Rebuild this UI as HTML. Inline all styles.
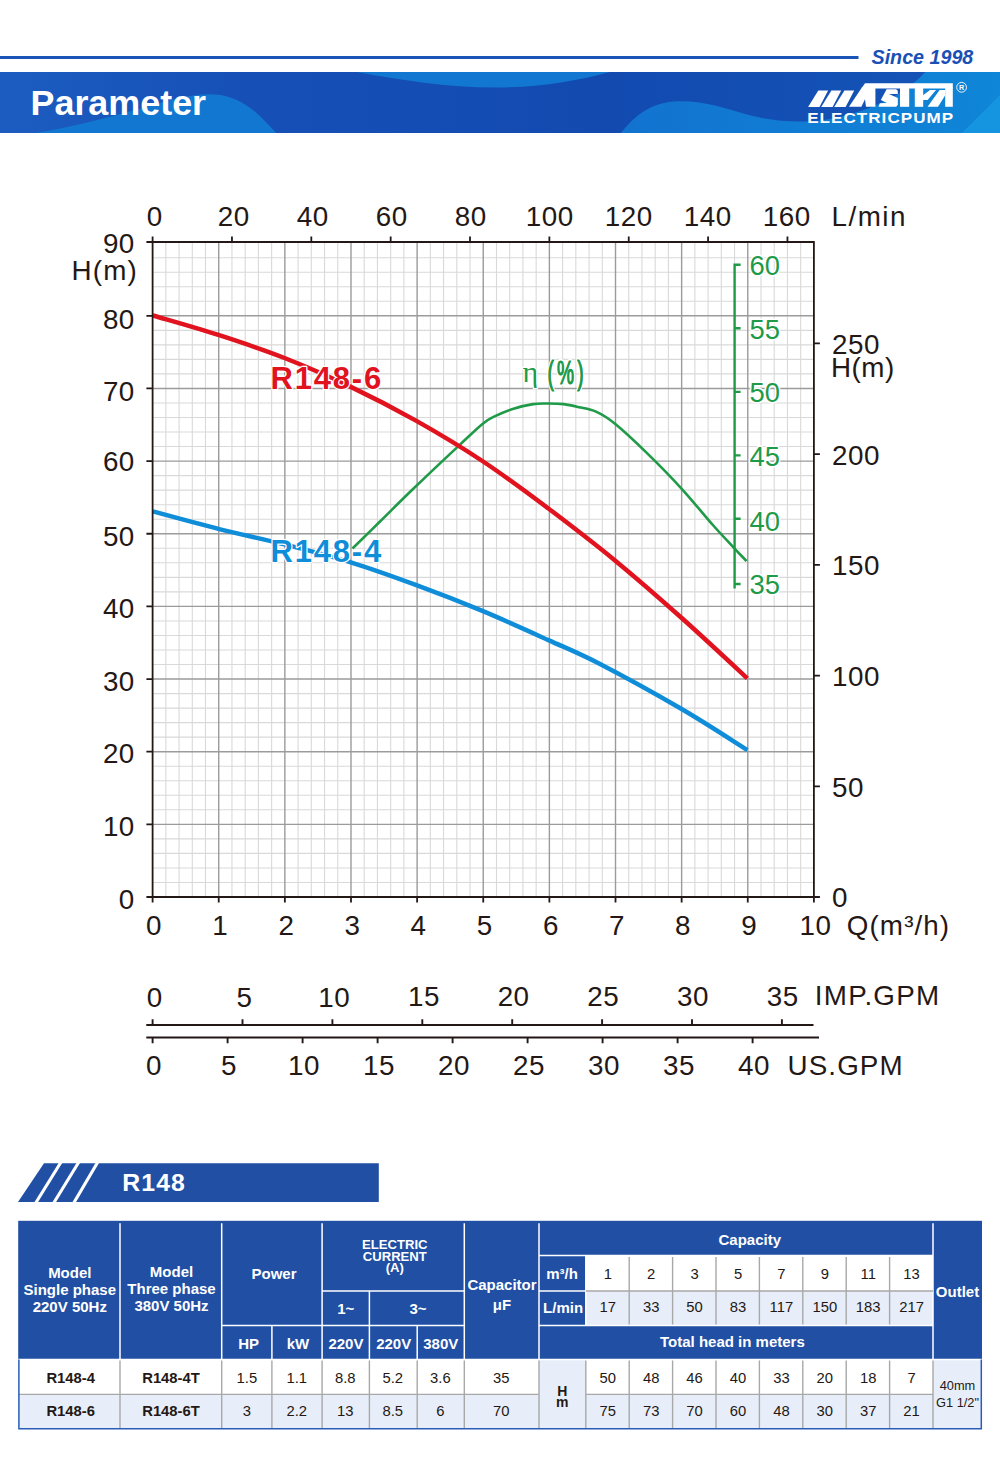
<!DOCTYPE html>
<html><head><meta charset="utf-8"><title>Parameter</title>
<style>
html,body{margin:0;padding:0;background:#fff;}
body{width:1000px;height:1481px;overflow:hidden;font-family:"Liberation Sans",sans-serif;}
svg{display:block;position:absolute;left:0;top:0;}
svg text{font-family:"Liberation Sans",sans-serif;}
.ax{font-size:27.8px;fill:#231815;letter-spacing:0.5px;}
.gr{font-size:27.4px;fill:#1f9a48;stroke:#fff;stroke-width:3px;paint-order:stroke fill;stroke-linejoin:round;}
.th{font-size:15px;font-weight:bold;fill:#fff;text-anchor:middle;}
.td{font-size:14.8px;fill:#231815;text-anchor:middle;}
.tb{font-size:14.8px;font-weight:bold;fill:#231815;text-anchor:middle;}
</style></head><body>
<svg width="1000" height="1481" viewBox="0 0 1000 1481">
<defs>
<linearGradient id="bg" x1="0" y1="0" x2="1" y2="0"><stop offset="0" stop-color="#1c5cc0"/><stop offset="0.25" stop-color="#1650b6"/><stop offset="0.6" stop-color="#124ab0"/><stop offset="1" stop-color="#1555b8"/></linearGradient>
<linearGradient id="wv" x1="0" y1="0" x2="1" y2="0"><stop offset="0" stop-color="#1273cf"/><stop offset="1" stop-color="#0f86d8"/></linearGradient>
<clipPath id="bc"><rect x="0" y="72" width="1000" height="61"/></clipPath>
</defs>
<rect x="0" y="56" width="858.5" height="3" fill="#1a54b6"/>
<rect x="0" y="72" width="1000" height="61" fill="url(#bg)"/>
<g clip-path="url(#bc)">
<path d="M30,134 C80,126 125,113 160,103 C185,96 200,93.5 215,94.5 C240,96 258,112 277,134 Z" fill="#1277d0"/>
<path d="M357,72 C400,80 450,88 500,87.5 C545,87 580,80 610,72 Z" fill="#1277d0"/>
<path d="M620,134 C632,120 645,104 674,101.5 C700,99.5 725,108 749,115 C775,122 800,123 824,120 C850,116 880,106 903,91 C912,85 920,78 926,71 L1001,71 L1001,134 Z" fill="url(#wv)"/>
<path d="M961,134 L1001,94 L1001,134 Z" fill="#1595e0"/>
</g>
<text x="30.5" y="115" font-size="35.9" font-weight="bold" fill="#fff">Parameter</text>
<text x="871.5" y="63.7" font-size="19.7" font-weight="bold" font-style="italic" fill="#1a50b5">Since 1998</text>
<polygon points="808.1,107.0 819.5,107.0 828.1,90.6 818.3,90.6" fill="#fff"/>
<polygon points="821.2,107.0 832.6,107.0 841.2,90.6 831.4,90.6" fill="#fff"/>
<polygon points="834.2,107.0 845.6,107.0 854.2,90.6 844.4,90.6" fill="#fff"/>
<polygon points="865.0,83.2 952.8,83.2 952.8,88.4 861.3,88.4" fill="#fff"/>
<polygon points="849.0,106.8 861.9,87.6 875.4,87.6 875.4,106.8 866.0,106.8 865.0,99.2 861.4,106.8" fill="#fff"/>
<polygon points="886.6,89.2 896.2,89.2 897.8,90.8 897.8,94.0 889.0,94.0 897.8,98.0 897.8,104.8 896.2,106.8 878.6,106.8 879.8,103.2 887.0,103.0 880.8,100.0" fill="#fff"/>
<polygon points="900.0,87.6 909.2,87.6 909.2,106.8 900.0,106.8" fill="#fff"/>
<polygon points="914.8,87.6 923.2,87.6 923.2,106.8 914.8,106.8" fill="#fff"/>
<polygon points="923.0,95.2 930.0,90.0 936.0,90.0 927.6,100.0 923.0,100.0" fill="#fff"/>
<polygon points="927.6,106.8 938.0,106.8 945.4,95.0 945.4,90.0 939.6,90.0" fill="#fff"/>
<polygon points="945.2,87.6 952.8,87.6 952.8,106.8 945.2,106.8" fill="#fff"/>
<text transform="translate(807.2,123.1) scale(1.1,1)" font-size="15.5" font-weight="bold" fill="#fff" letter-spacing="0.95">ELECTRICPUMP</text>
<circle cx="961.6" cy="87.3" r="4.9" fill="none" stroke="#fff" stroke-width="0.9"/>
<text x="961.6" y="89.9" font-size="7.2" font-weight="bold" fill="#fff" text-anchor="middle">R</text>
<path d="M165.83,242.0V897.0M179.05,242.0V897.0M192.28,242.0V897.0M205.50,242.0V897.0M231.96,242.0V897.0M245.18,242.0V897.0M258.41,242.0V897.0M271.63,242.0V897.0M298.09,242.0V897.0M311.31,242.0V897.0M324.54,242.0V897.0M337.76,242.0V897.0M364.22,242.0V897.0M377.44,242.0V897.0M390.67,242.0V897.0M403.89,242.0V897.0M430.35,242.0V897.0M443.57,242.0V897.0M456.80,242.0V897.0M470.02,242.0V897.0M496.48,242.0V897.0M509.70,242.0V897.0M522.93,242.0V897.0M536.15,242.0V897.0M562.61,242.0V897.0M575.83,242.0V897.0M589.06,242.0V897.0M602.28,242.0V897.0M628.74,242.0V897.0M641.96,242.0V897.0M655.19,242.0V897.0M668.41,242.0V897.0M694.87,242.0V897.0M708.09,242.0V897.0M721.32,242.0V897.0M734.54,242.0V897.0M761.00,242.0V897.0M774.22,242.0V897.0M787.45,242.0V897.0M800.67,242.0V897.0M152.6,882.47H813.9M152.6,867.94H813.9M152.6,853.41H813.9M152.6,838.88H813.9M152.6,809.82H813.9M152.6,795.29H813.9M152.6,780.76H813.9M152.6,766.23H813.9M152.6,737.17H813.9M152.6,722.64H813.9M152.6,708.11H813.9M152.6,693.58H813.9M152.6,664.52H813.9M152.6,649.99H813.9M152.6,635.46H813.9M152.6,620.93H813.9M152.6,591.87H813.9M152.6,577.34H813.9M152.6,562.81H813.9M152.6,548.28H813.9M152.6,519.22H813.9M152.6,504.69H813.9M152.6,490.16H813.9M152.6,475.63H813.9M152.6,446.57H813.9M152.6,432.04H813.9M152.6,417.51H813.9M152.6,402.98H813.9M152.6,373.92H813.9M152.6,359.39H813.9M152.6,344.86H813.9M152.6,330.33H813.9M152.6,301.27H813.9M152.6,286.74H813.9M152.6,272.21H813.9M152.6,257.68H813.9" stroke="#d9d9d9" stroke-width="1.1" fill="none"/>
<path d="M218.73,242.0V897.0M284.86,242.0V897.0M350.99,242.0V897.0M417.12,242.0V897.0M483.25,242.0V897.0M549.38,242.0V897.0M615.51,242.0V897.0M681.64,242.0V897.0M747.77,242.0V897.0M152.6,824.35H813.9M152.6,751.70H813.9M152.6,679.05H813.9M152.6,606.40H813.9M152.6,533.75H813.9M152.6,461.10H813.9M152.6,388.45H813.9M152.6,315.80H813.9" stroke="#9b9b9b" stroke-width="1.4" fill="none"/>
<path d="M352.5,548.5C357.1,544.0 370.1,531.2 380.0,521.5C389.9,511.8 398.7,502.8 412.0,490.0C425.3,477.2 448.1,455.7 460.0,444.6C471.9,433.5 477.4,428.1 483.1,423.5C488.8,418.9 489.1,419.1 494.0,416.7C498.9,414.3 506.2,411.0 512.7,408.9C519.2,406.8 527.2,405.0 533.1,404.1C539.0,403.2 543.3,403.5 548.4,403.5C553.5,403.5 558.6,403.5 563.7,404.1C568.8,404.7 573.6,405.9 579.0,407.2C584.4,408.4 590.0,408.9 596.0,411.6C602.0,414.3 606.2,416.6 614.7,423.5C623.2,430.4 635.8,442.2 647.0,453.1C658.2,464.0 670.7,476.7 681.7,488.8C692.8,500.9 704.6,515.7 713.3,525.5C722.0,535.3 728.2,541.6 733.7,547.6C739.2,553.6 744.5,558.9 746.6,561.2" stroke="#1f9a48" stroke-width="2.6" fill="none" stroke-linejoin="round"/>
<path d="M740.6,264.7H734.6V588.5M734.6,328.3H740.6M734.6,391.9H740.6M734.6,455.4H740.6M734.6,518.8H740.6M734.6,584.0H740.6" stroke="#1f9a48" stroke-width="2.4" fill="none"/>
<path d="M152.9,315.5C163.9,318.8 197.3,328.1 219.2,335.2C241.1,342.3 262.6,349.4 284.5,358.0C306.4,366.6 328.8,376.4 350.8,386.9C372.8,397.4 394.3,408.5 416.4,420.9C438.4,433.3 461.1,446.9 483.1,461.5C505.1,476.1 526.5,492.1 548.4,508.5C570.3,525.0 592.5,542.0 614.7,560.2C636.9,578.5 659.6,598.3 681.7,618.0C703.8,637.7 736.5,668.3 747.4,678.4" stroke="#e0131f" stroke-width="4.5" fill="none"/>
<path d="M152.9,511.4C163.9,514.4 197.3,523.6 219.2,529.1C241.1,534.6 262.6,538.9 284.5,544.4C306.4,549.9 328.8,555.6 350.8,562.4C372.8,569.2 394.4,577.1 416.4,585.2C438.4,593.3 461.0,602.1 483.0,611.2C505.0,620.4 528.9,631.3 548.4,640.1C567.9,648.9 577.8,652.5 600.0,664.0C622.2,675.5 657.0,694.7 681.6,709.0C706.2,723.3 736.4,743.2 747.4,750.0" stroke="#0f8dd8" stroke-width="4.5" fill="none"/>
<text class="gr" x="749.5" y="275.0">60</text>
<text class="gr" x="749.5" y="338.6">55</text>
<text class="gr" x="749.5" y="402.2">50</text>
<text class="gr" x="749.5" y="465.7">45</text>
<text class="gr" x="749.5" y="531.1">40</text>
<text class="gr" x="749.5" y="593.5">35</text>
<text class="gr" x="522.5" y="382.3" style="font-size:30px;font-family:'Liberation Serif',serif;stroke-width:2.5px">&#951;</text>
<text class="gr" transform="translate(547.4,384.2) scale(0.64,1.08)" style="font-size:30px;letter-spacing:5px;stroke-width:4px">(%)</text>
<text transform="translate(547.4,384.2) scale(0.64,1.08)" style="font-size:30px;letter-spacing:5px" fill="#1f9a48" stroke="#1f9a48" stroke-width="0.9">(%)</text>
<text x="270.5" y="388.6" font-size="31" font-weight="bold" fill="#e0131f" stroke="#fff" stroke-width="2.4" paint-order="stroke fill" stroke-linejoin="round" letter-spacing="1.8">R148-6</text>
<text x="270.5" y="562.1" font-size="31" font-weight="bold" fill="#0f8dd8" stroke="#fff" stroke-width="2.4" paint-order="stroke fill" stroke-linejoin="round" letter-spacing="1.8">R148-4</text>
<path d="M146.4,242.0H814.8M146.4,897.0H819.9M152.6,242.0V902.5M813.9,242.0V902.5M146.4,824.35H152.6M146.4,751.70H152.6M146.4,679.05H152.6M146.4,606.40H152.6M146.4,533.75H152.6M146.4,461.10H152.6M146.4,388.45H152.6M146.4,315.80H152.6M218.73,897.0V902.5M284.86,897.0V902.5M350.99,897.0V902.5M417.12,897.0V902.5M483.25,897.0V902.5M549.38,897.0V902.5M615.51,897.0V902.5M681.64,897.0V902.5M747.77,897.0V902.5M152.60,236.5V242.0M231.96,236.5V242.0M311.31,236.5V242.0M390.67,236.5V242.0M470.02,236.5V242.0M549.38,236.5V242.0M628.74,236.5V242.0M708.09,236.5V242.0M787.45,236.5V242.0M813.9,786.28H819.9M813.9,675.56H819.9M813.9,564.84H819.9M813.9,454.13H819.9M813.9,343.41H819.9" stroke="#231815" stroke-width="1.8" fill="none"/>
<text class="ax" x="154.8" y="226.0" text-anchor="middle">0</text>
<text class="ax" x="233.8" y="226.0" text-anchor="middle">20</text>
<text class="ax" x="312.8" y="226.0" text-anchor="middle">40</text>
<text class="ax" x="391.8" y="226.0" text-anchor="middle">60</text>
<text class="ax" x="470.8" y="226.0" text-anchor="middle">80</text>
<text class="ax" x="549.8" y="226.0" text-anchor="middle">100</text>
<text class="ax" x="628.8" y="226.0" text-anchor="middle">120</text>
<text class="ax" x="707.8" y="226.0" text-anchor="middle">140</text>
<text class="ax" x="786.8" y="226.0" text-anchor="middle">160</text>
<text class="ax" x="831.5" y="226.0" text-anchor="start" style="letter-spacing:1.5px">L/min</text>
<text class="ax" x="134.8" y="908.8" text-anchor="end">0</text>
<text class="ax" x="134.8" y="835.9" text-anchor="end">10</text>
<text class="ax" x="134.8" y="763.0" text-anchor="end">20</text>
<text class="ax" x="134.8" y="690.8" text-anchor="end">30</text>
<text class="ax" x="134.8" y="618.2" text-anchor="end">40</text>
<text class="ax" x="134.8" y="545.5" text-anchor="end">50</text>
<text class="ax" x="134.8" y="471.1" text-anchor="end">60</text>
<text class="ax" x="134.8" y="400.8" text-anchor="end">70</text>
<text class="ax" x="134.8" y="329.1" text-anchor="end">80</text>
<text class="ax" x="134.8" y="253.3" text-anchor="end">90</text>
<text class="ax" x="71.5" y="280.0" text-anchor="start" style="letter-spacing:1.2px">H(m)</text>
<text class="ax" x="832.0" y="907.2" text-anchor="start">0</text>
<text class="ax" x="832.0" y="796.8" text-anchor="start">50</text>
<text class="ax" x="832.0" y="686.1" text-anchor="start">100</text>
<text class="ax" x="832.0" y="575.3" text-anchor="start">150</text>
<text class="ax" x="832.0" y="464.6" text-anchor="start">200</text>
<text class="ax" x="832.0" y="353.9" text-anchor="start">250</text>
<text class="ax" x="831.0" y="377.0" text-anchor="start">H(m)</text>
<text class="ax" x="154.1" y="935.0" text-anchor="middle">0</text>
<text class="ax" x="220.2" y="935.0" text-anchor="middle">1</text>
<text class="ax" x="286.4" y="935.0" text-anchor="middle">2</text>
<text class="ax" x="352.5" y="935.0" text-anchor="middle">3</text>
<text class="ax" x="418.6" y="935.0" text-anchor="middle">4</text>
<text class="ax" x="484.8" y="935.0" text-anchor="middle">5</text>
<text class="ax" x="550.9" y="935.0" text-anchor="middle">6</text>
<text class="ax" x="617.0" y="935.0" text-anchor="middle">7</text>
<text class="ax" x="683.1" y="935.0" text-anchor="middle">8</text>
<text class="ax" x="749.3" y="935.0" text-anchor="middle">9</text>
<text class="ax" x="815.4" y="935.0" text-anchor="middle">10</text>
<text class="ax" x="846.8" y="935.0" text-anchor="start" style="letter-spacing:1.1px">Q(m&#179;/h)</text>
<text class="ax" x="154.8" y="1006.9" text-anchor="middle">0</text>
<text class="ax" x="244.5" y="1006.7" text-anchor="middle">5</text>
<text class="ax" x="334.2" y="1006.5" text-anchor="middle">10</text>
<text class="ax" x="423.9" y="1006.3" text-anchor="middle">15</text>
<text class="ax" x="513.6" y="1006.1" text-anchor="middle">20</text>
<text class="ax" x="603.3" y="1005.9" text-anchor="middle">25</text>
<text class="ax" x="693.0" y="1005.7" text-anchor="middle">30</text>
<text class="ax" x="782.7" y="1005.5" text-anchor="middle">35</text>
<text class="ax" x="154.0" y="1074.7" text-anchor="middle">0</text>
<text class="ax" x="229.0" y="1074.7" text-anchor="middle">5</text>
<text class="ax" x="304.0" y="1074.7" text-anchor="middle">10</text>
<text class="ax" x="379.0" y="1074.7" text-anchor="middle">15</text>
<text class="ax" x="454.0" y="1074.7" text-anchor="middle">20</text>
<text class="ax" x="529.0" y="1074.7" text-anchor="middle">25</text>
<text class="ax" x="604.0" y="1074.7" text-anchor="middle">30</text>
<text class="ax" x="679.0" y="1074.7" text-anchor="middle">35</text>
<text class="ax" x="754.0" y="1074.7" text-anchor="middle">40</text>
<path d="M146.3,1025H813.5M146.3,1037.5H819M152.6,1019.2V1025M242.5,1019.2V1025M332.4,1019.2V1025M422.3,1019.2V1025M512.2,1019.2V1025M602.1,1019.2V1025M692.0,1019.2V1025M781.9,1019.2V1025M152.6,1037.5V1043.2M227.6,1037.5V1043.2M302.6,1037.5V1043.2M377.6,1037.5V1043.2M452.6,1037.5V1043.2M527.6,1037.5V1043.2M602.6,1037.5V1043.2M677.6,1037.5V1043.2M752.6,1037.5V1043.2" stroke="#231815" stroke-width="1.9" fill="none"/>
<text class="ax" x="814.8" y="1005.2" text-anchor="start" style="letter-spacing:1.25px">IMP.GPM</text>
<text class="ax" x="787.5" y="1074.5" text-anchor="start" style="letter-spacing:1.1px">US.GPM</text>
<polygon points="18,1202 44,1163.2 378.8,1163.2 378.8,1202" fill="#204fa4"/>
<polygon points="34.2,1202.5 37.8,1202.5 62.4,1162.7 58.8,1162.7" fill="#fff"/>
<polygon points="52.2,1202.5 55.8,1202.5 80.2,1162.7 76.6,1162.7" fill="#fff"/>
<polygon points="72.2,1202.5 75.8,1202.5 99.2,1162.7 95.6,1162.7" fill="#fff"/>
<text x="122.3" y="1191.2" font-size="24.8" font-weight="bold" fill="#fff" letter-spacing="1.1">R148</text>
<rect x="18.2" y="1220.8" width="963.8" height="138.6" fill="#204fa4"/>
<rect x="585.8" y="1255.6" width="347.2" height="35.4" fill="#fff"/>
<rect x="585.8" y="1291.0" width="347.2" height="34.4" fill="#e8eef9"/>
<rect x="18.2" y="1359.4" width="963.6" height="35.0" fill="#fff"/>
<rect x="18.2" y="1394.4" width="963.6" height="34.4" fill="#e8eef9"/>
<rect x="539.0" y="1359.4" width="46.8" height="69.4" fill="#e8eef9"/>
<rect x="933.0" y="1359.4" width="48.8" height="69.4" fill="#e8eef9"/>
<path d="M120.0,1223.2V1359.4M221.7,1223.2V1359.4M322.1,1223.2V1359.4M464.3,1223.2V1359.4M539.0,1223.2V1359.4M933.0,1223.2V1359.4M271.9,1325.4V1359.4M417.2,1325.4V1359.4M369.4,1291.0V1359.4M221.7,1325.4H464.3M322.1,1291.0H464.3M539.0,1255.6H933.0M539.0,1291.0H585.8M539.0,1325.4H933.0M585.8,1255.6V1325.4M18.2,1359.4H981.8" stroke="#fff" stroke-width="1.5" fill="none"/>
<path d="M120.0,1360.6V1428.8M221.7,1360.6V1428.8M271.9,1360.6V1428.8M322.1,1360.6V1428.8M369.4,1360.6V1428.8M417.2,1360.6V1428.8M464.3,1360.6V1428.8M539.0,1360.6V1428.8M585.8,1360.6V1428.8M629.2,1360.6V1428.8M672.6,1360.6V1428.8M716.0,1360.6V1428.8M759.4,1360.6V1428.8M802.8,1360.6V1428.8M846.2,1360.6V1428.8M889.6,1360.6V1428.8M933.0,1360.6V1428.8M629.2,1257.1V1324.6M672.6,1257.1V1324.6M716.0,1257.1V1324.6M759.4,1257.1V1324.6M802.8,1257.1V1324.6M846.2,1257.1V1324.6M889.6,1257.1V1324.6M18.2,1394.4H539.0M585.8,1394.4H933.0M585.8,1291.0H933.0" stroke="#a8a8a8" stroke-width="1.4" fill="none"/>
<path d="M18.9,1359.4V1428.8H981.3V1359.4" stroke="#2a5db8" stroke-width="1.5" fill="none"/>
<text class="th" x="69.8" y="1278.4">Model</text>
<text class="th" x="69.8" y="1295.2">Single phase</text>
<text class="th" x="69.8" y="1312.0">220V 50Hz</text>
<text class="th" x="171.5" y="1277.2">Model</text>
<text class="th" x="171.5" y="1294.0">Three phase</text>
<text class="th" x="171.5" y="1310.8">380V 50Hz</text>
<text class="th" x="274.0" y="1278.5">Power</text>
<text class="th" x="394.8" y="1249.1" style="font-size:13.1px">ELECTRIC</text>
<text class="th" x="394.8" y="1260.7" style="font-size:13.1px">CURRENT</text>
<text class="th" x="394.8" y="1272.2" style="font-size:13.1px">(A)</text>
<text class="th" x="345.7" y="1314.1">1~</text>
<text class="th" x="418.0" y="1314.1">3~</text>
<text class="th" x="248.6" y="1349.2">HP</text>
<text class="th" x="298.0" y="1349.2">kW</text>
<text class="th" x="345.9" y="1349.2">220V</text>
<text class="th" x="393.7" y="1349.2">220V</text>
<text class="th" x="440.8" y="1349.2">380V</text>
<text class="th" x="502.0" y="1290.2">Capacitor</text>
<text class="th" x="502.0" y="1309.9">&#956;F</text>
<text class="th" x="749.8" y="1244.6">Capacity</text>
<text class="th" x="562.1" y="1279.0">m&#179;/h</text>
<text class="th" x="563.1" y="1313.4">L/min</text>
<text class="th" x="732.4" y="1347.4">Total head in meters</text>
<text class="th" x="957.5" y="1297.0">Outlet</text>
<text class="tb" x="70.7" y="1383.3">R148-4</text>
<text class="tb" x="70.7" y="1416.2">R148-6</text>
<text class="tb" x="171.0" y="1383.3">R148-4T</text>
<text class="tb" x="171.0" y="1416.2">R148-6T</text>
<text class="td" x="246.9" y="1383.3">1.5</text>
<text class="td" x="246.9" y="1416.2">3</text>
<text class="td" x="296.8" y="1383.3">1.1</text>
<text class="td" x="296.8" y="1416.2">2.2</text>
<text class="td" x="345.2" y="1383.3">8.8</text>
<text class="td" x="345.2" y="1416.2">13</text>
<text class="td" x="392.8" y="1383.3">5.2</text>
<text class="td" x="392.8" y="1416.2">8.5</text>
<text class="td" x="440.4" y="1383.3">3.6</text>
<text class="td" x="440.4" y="1416.2">6</text>
<text class="td" x="501.2" y="1383.3">35</text>
<text class="td" x="501.2" y="1416.2">70</text>
<text class="tb" x="562.3" y="1395.5" style="font-size:14px">H</text>
<text class="tb" x="562.3" y="1406.7" style="font-size:14px">m</text>
<text class="td" x="607.8" y="1279.0">1</text>
<text class="td" x="607.8" y="1312.4">17</text>
<text class="td" x="607.8" y="1383.3">50</text>
<text class="td" x="607.8" y="1416.2">75</text>
<text class="td" x="651.2" y="1279.0">2</text>
<text class="td" x="651.2" y="1312.4">33</text>
<text class="td" x="651.2" y="1383.3">48</text>
<text class="td" x="651.2" y="1416.2">73</text>
<text class="td" x="694.6" y="1279.0">3</text>
<text class="td" x="694.6" y="1312.4">50</text>
<text class="td" x="694.6" y="1383.3">46</text>
<text class="td" x="694.6" y="1416.2">70</text>
<text class="td" x="738.0" y="1279.0">5</text>
<text class="td" x="738.0" y="1312.4">83</text>
<text class="td" x="738.0" y="1383.3">40</text>
<text class="td" x="738.0" y="1416.2">60</text>
<text class="td" x="781.4" y="1279.0">7</text>
<text class="td" x="781.4" y="1312.4">117</text>
<text class="td" x="781.4" y="1383.3">33</text>
<text class="td" x="781.4" y="1416.2">48</text>
<text class="td" x="824.8" y="1279.0">9</text>
<text class="td" x="824.8" y="1312.4">150</text>
<text class="td" x="824.8" y="1383.3">20</text>
<text class="td" x="824.8" y="1416.2">30</text>
<text class="td" x="868.2" y="1279.0">11</text>
<text class="td" x="868.2" y="1312.4">183</text>
<text class="td" x="868.2" y="1383.3">18</text>
<text class="td" x="868.2" y="1416.2">37</text>
<text class="td" x="911.6" y="1279.0">13</text>
<text class="td" x="911.6" y="1312.4">217</text>
<text class="td" x="911.6" y="1383.3">7</text>
<text class="td" x="911.6" y="1416.2">21</text>
<text class="td" x="957.5" y="1390.2" style="font-size:12.8px">40mm</text>
<text class="td" x="957.5" y="1407.0" style="font-size:12.8px">G1 1/2&quot;</text>
</svg>
</body></html>
